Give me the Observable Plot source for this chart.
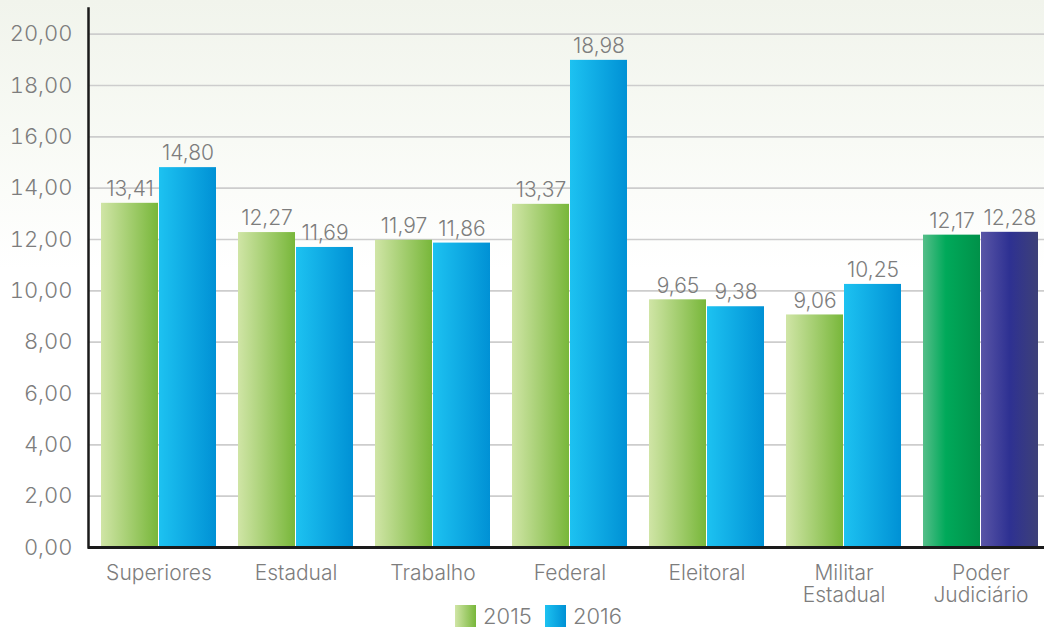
<!DOCTYPE html>
<html><head><meta charset="utf-8">
<script src="https://cdn.jsdelivr.net/npm/d3@7"></script>
<script src="https://cdn.jsdelivr.net/npm/@observablehq/plot@0.6"></script>
<style>
html,body{margin:0;padding:0;}
body{width:1044px;height:632px;overflow:hidden;background:linear-gradient(to bottom,#f1f4ec 0px,#f8faf5 140px,#ffffff 270px);font-family:Inter,Roboto,sans-serif;font-weight:300;}
#chart{height:600px;}
#legend{display:flex;justify-content:center;align-items:center;height:32px;line-height:24px;padding-left:46px;color:#7d7d7d;font-size:22px;}
.sw{width:21px;height:22px;margin-right:7px;}
.lab{margin-right:13px;}
</style></head><body>
<svg width="0" height="0" style="position:absolute"><defs>
<linearGradient id="g2015" x1="0" x2="1" y1="0" y2="0"><stop offset="0" stop-color="#d0e5a6"/><stop offset="1" stop-color="#78b73a"/></linearGradient>
<linearGradient id="g2016" x1="0" x2="1" y1="0" y2="0"><stop offset="0" stop-color="#1dc2f1"/><stop offset="1" stop-color="#0091d5"/></linearGradient>
<linearGradient id="gP2015" x1="0" x2="1" y1="0" y2="0"><stop offset="0" stop-color="#55be89"/><stop offset="0.4" stop-color="#00a95a"/><stop offset="1" stop-color="#009149"/></linearGradient>
<linearGradient id="gP2016" x1="0" x2="1" y1="0" y2="0"><stop offset="0" stop-color="#5955a6"/><stop offset="0.5" stop-color="#2e3192"/><stop offset="1" stop-color="#3d4078"/></linearGradient>
</defs></svg>
<div id="chart"></div>
<div id="legend"></div>
<script>
const categories = ["Superiores","Estadual","Trabalho","Federal","Eleitoral","Militar\nEstadual","Poder\nJudiciário"];
const values2015 = [13.41,12.27,11.97,13.37,9.65,9.06,12.17];
const values2016 = [14.80,11.69,11.86,18.98,9.38,10.25,12.28];
const years = ["2015","2016"];
const yTicks = [0,2,4,6,8,10,12,14,16,18,20];

const data2015 = categories.map((c,i)=>({cat:c, year:years[0], value:values2015[i]}));
const data2016 = categories.map((c,i)=>({cat:c, year:years[1], value:values2016[i]}));
const fmt = v => v.toFixed(2).replace(".", ",");
const fillFor = d => d.cat === categories[categories.length-1] ? `url(#gP${d.year})` : `url(#g${d.year})`;

const plot = Plot.plot({
  width:1044, height:600, marginTop:8, marginBottom:53, marginLeft:88, marginRight:0,
  style:{fontFamily:"Inter, Roboto, sans-serif", fontWeight:300, fontSize:"21px", color:"#7d7d7d", background:"transparent", overflow:"visible"},
  x:{domain:categories, range:[91.5,1047.5], paddingInner:0.163, paddingOuter:0.062, label:null},
  y:{domain:[0,21], label:null},
  color:{type:"identity"},
  marks:[
    Plot.gridY(yTicks,{stroke:"#cdcdcd", strokeOpacity:1, strokeWidth:1.6}),
    Plot.barY(data2015,{x:"cat", y:"value", fill:fillFor, insetRight:58}),
    Plot.barY(data2016,{x:"cat", y:"value", fill:fillFor, insetLeft:58}),
    Plot.text(data2015,{x:"cat", y:"value", text:d=>fmt(d.value), dx:-29, dy:-14, fill:"#7d7d7d", fontSize:21}),
    Plot.text(data2016,{x:"cat", y:"value", text:d=>fmt(d.value), dx:29, dy:-14, fill:"#7d7d7d", fontSize:21}),
    Plot.axisY(yTicks,{tickSize:0, tickPadding:16, tickFormat:fmt, fontSize:22, label:null}),
    Plot.axisX({tickSize:0, tickPadding:16, fontSize:21, lineHeight:1.08, label:null}),
    Plot.ruleY([0],{stroke:"#1a1a1a", strokeWidth:3}),
    Plot.frame({anchor:"left", stroke:"#1a1a1a", strokeWidth:2.5})
  ]
});
document.getElementById("chart").appendChild(plot);

const legendColors = {"2015":"linear-gradient(to right,#d0e5a6,#78b73a)","2016":"linear-gradient(to right,#1dc2f1,#0091d5)"};
const leg = document.getElementById("legend");
years.forEach(y=>{
  const sw=document.createElement("div"); sw.className="sw"; sw.style.background=legendColors[y]; leg.appendChild(sw);
  const t=document.createElement("span"); t.className="lab"; t.textContent=y; leg.appendChild(t);
});
</script>
</body></html>
